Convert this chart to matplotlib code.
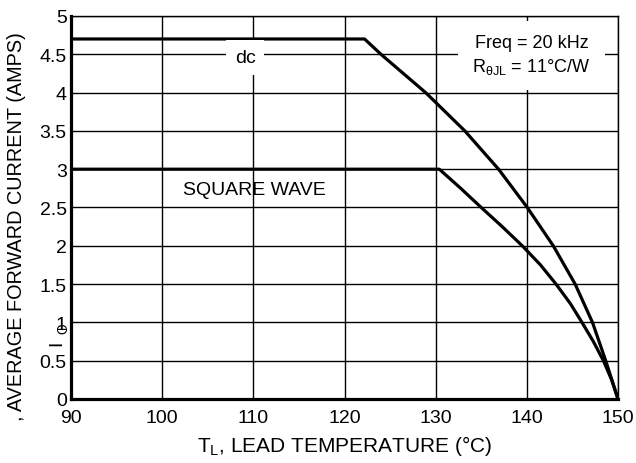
import numpy as np
import matplotlib.pyplot as plt

plt.rcParams['font.family'] = ['Liberation Sans', 'DejaVu Sans']

# curve points
t_dc = [90, 122.2, 124.0, 128.9, 133.2, 136.9, 140.05, 142.9, 145.3, 147.2, 148.65, 150]
i_dc = [4.7, 4.7, 4.5, 4.0, 3.5, 3.0, 2.5, 2.0, 1.5, 1.0, 0.5, 0]
t_sq = [90, 130.4, 132.75, 135.0, 137.3, 139.5, 141.5, 143.2, 144.75, 146.05, 147.3, 148.4, 149.3, 150]
i_sq = [3.0, 3.0, 2.75, 2.5, 2.25, 2.0, 1.75, 1.5, 1.25, 1.0, 0.75, 0.5, 0.25, 0]

x_ticks = [90, 100, 110, 120, 130, 140, 150]
y_ticks = [0, 0.5, 1, 1.5, 2, 2.5, 3, 3.5, 4, 4.5, 5]
y_tick_labels = ['0', '0.5', '1', '1.5', '2', '2.5', '3', '3.5', '4', '4.5', '5']

fig = plt.figure(figsize=(6.36, 4.64), dpi=100)
ax = fig.add_axes([71/636, 64/464, 547/636, 383/464])

ax.plot(t_dc, i_dc, color='black', lw=2.3, solid_joinstyle='round', zorder=3)
ax.plot(t_sq, i_sq, color='black', lw=2.3, solid_joinstyle='round', zorder=3)

ax.set_xlim(90, 150)
ax.set_ylim(0, 5)
ax.set_xticks(x_ticks)
ax.set_yticks(y_ticks)
ax.set_yticklabels(y_tick_labels)
ax.grid(True, color='black', lw=1.0)
ax.set_axisbelow(True)
ax.tick_params(length=0, labelsize=14)
ax.tick_params(axis='x', pad=7)
ax.tick_params(axis='y', pad=3)

for s in ['left', 'bottom']:
    ax.spines[s].set_linewidth(2.3)
for s in ['top', 'right']:
    ax.spines[s].set_linewidth(1.0)

ax.text(109.1, 4.46, 'dc', fontsize=14, ha='center', va='center', zorder=4,
        bbox=dict(facecolor='white', edgecolor='none', pad=6.5))
ax.text(110.1, 2.74, 'SQUARE WAVE', fontsize=14, ha='center', va='center', zorder=4)
ax.text(140.5, 4.49, 'Freq = 20 kHz\n$\\mathregular{R_{\\theta JL}}$ = 11°C/W', fontsize=13,
        ha='center', va='center', linespacing=1.3, zorder=4,
        bbox=dict(facecolor='white', edgecolor='none', pad=10))

ax.set_xlabel('$\\mathregular{T_L}$, LEAD TEMPERATURE (°C)', fontsize=15, labelpad=5)

fig.text(17/636, 1 - 227/464, ', AVERAGE FORWARD CURRENT (AMPS)', rotation=90,
         fontsize=14.3, ha='center', va='center')
fig.text(56.5/636, 1 - 343/464, 'I', rotation=90, fontsize=14, ha='center', va='center')
fig.text(63/636, 1 - 329/464, 'O', rotation=90, fontsize=10, ha='center', va='center')

fig.savefig('out.png', dpi=100)
